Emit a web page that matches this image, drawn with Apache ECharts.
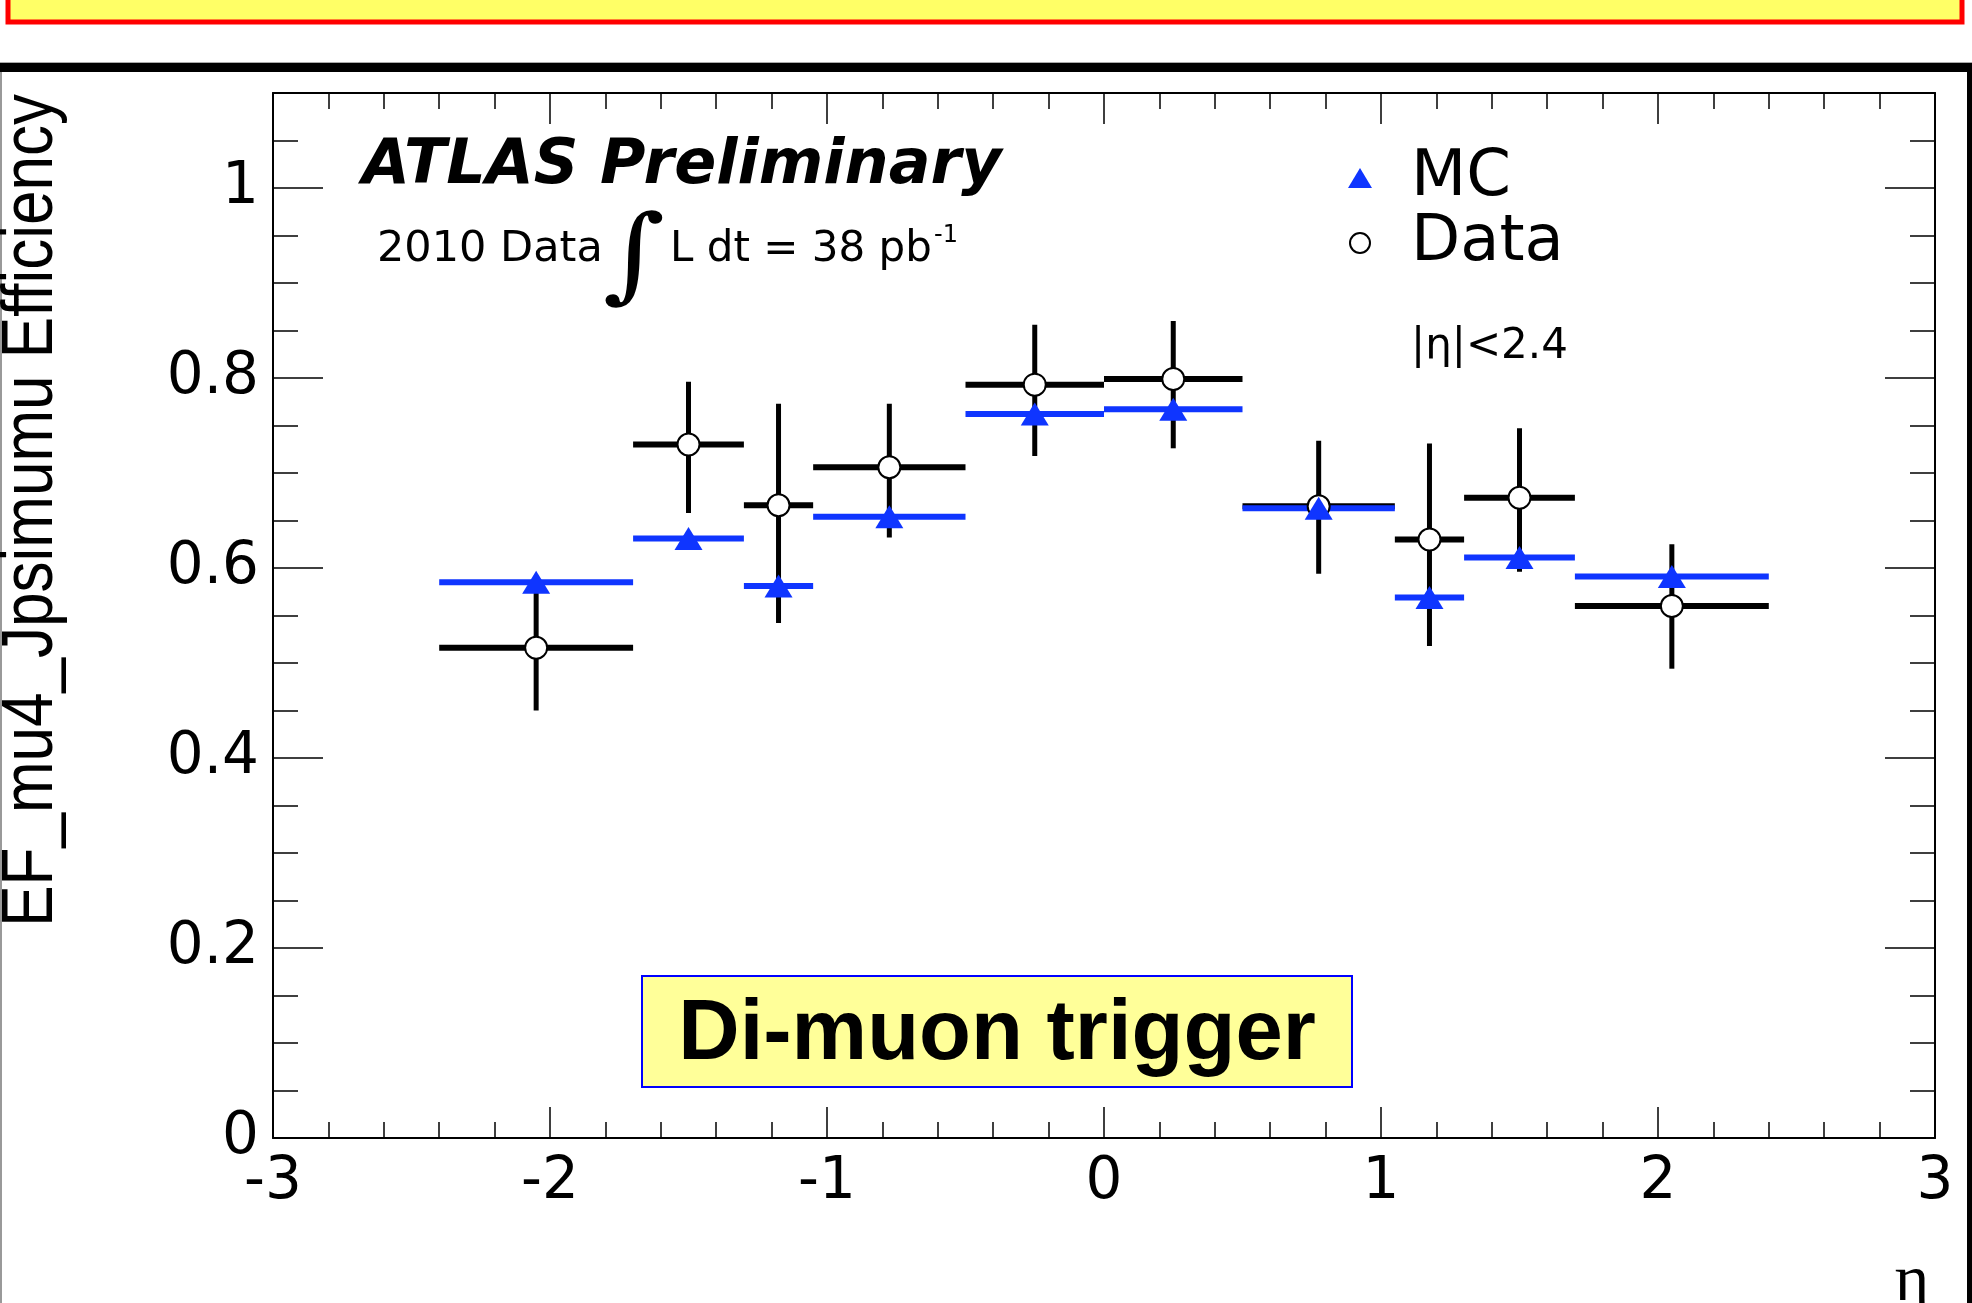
<!DOCTYPE html>
<html>
<head>
<meta charset="utf-8">
<title>EF_mu4_Jpsimumu efficiency vs eta</title>
<script src="https://cdn.jsdelivr.net/npm/echarts@6/dist/echarts.min.js"></script>
<style>
html, body { margin: 0; padding: 0; background: #fff; }
#chart-container { width: 1972px; height: 1303px; }
</style>
</head>
<body>
<div id="chart-container"></div>
<script>
// eta bins (edges and point positions)
let binLow = [-2.4, -1.7, -1.3, -1.05, -0.5, 0, 0.5, 1.05, 1.3, 1.7];
let binHigh = [-1.7, -1.3, -1.05, -0.5, 0, 0.5, 1.05, 1.3, 1.7, 2.4];
let etaCenter = [-2.05, -1.5, -1.175, -0.775, -0.25, 0.25, 0.775, 1.175, 1.5, 2.05];

// efficiencies
let dataEff = [0.516, 0.730, 0.666, 0.706, 0.793, 0.799, 0.665, 0.630, 0.674, 0.560];
let dataErrUp = [0.066, 0.066, 0.107, 0.067, 0.063, 0.061, 0.069, 0.101, 0.073, 0.065];
let dataErrDown = [0.066, 0.072, 0.124, 0.074, 0.075, 0.073, 0.071, 0.112, 0.078, 0.066];
let mcEff = [0.585, 0.631, 0.581, 0.654, 0.762, 0.767, 0.663, 0.569, 0.611, 0.591];

let yTickLabels = ['0', '0.2', '0.4', '0.6', '0.8', '1'];

const BLUE = '#0f35ff';
const FONT = 'DejaVu Sans';

let dom = document.getElementById('chart-container');
let myChart = echarts.init(dom, null, { renderer: 'canvas' });

// horizontal bin bar + vertical error bar
function binBars(color, hWidth, vWidth) {
    return function(params, api) {
        let l = api.coord([api.value(2), api.value(1)]);
        let r = api.coord([api.value(3), api.value(1)]);
        let children = [{
            type: 'line',
            shape: { x1: l[0], y1: l[1], x2: r[0], y2: r[1] },
            style: { stroke: color, lineWidth: hWidth }
        }];
        if (api.value(5) > api.value(4)) {
            let lo = api.coord([api.value(0), api.value(4)]);
            let hi = api.coord([api.value(0), api.value(5)]);
            children.push({
                type: 'line',
                shape: { x1: lo[0], y1: lo[1], x2: hi[0], y2: hi[1] },
                style: { stroke: color, lineWidth: vWidth }
            });
        }
        return { type: 'group', children: children };
    };
}

let dataBins = dataEff.map(function(v, i) {
    return [etaCenter[i], v, binLow[i], binHigh[i], v - dataErrDown[i], v + dataErrUp[i]];
});
let mcBins = mcEff.map(function(v, i) {
    return [etaCenter[i], v, binLow[i], binHigh[i], v, v];
});

let lineStyle = { color: '#000', width: 2 };
let tickStyle = { color: '#000', width: 1.5 };

function xAxisDef(pos, labels) {
    return {
        type: 'value', min: -3, max: 3, interval: 1, position: pos,
        axisLine: { show: true, onZero: false, lineStyle: lineStyle },
        axisTick: { show: true, inside: true, length: 31, lineStyle: tickStyle },
        minorTick: { show: true, splitNumber: 5, length: 16, lineStyle: tickStyle },
        axisLabel: {
            show: labels, fontFamily: FONT, fontSize: 58, color: '#000', margin: 16,
            showMinLabel: true, showMaxLabel: true
        },
        splitLine: { show: false }
    };
}

function yAxisDef(pos, interval, tickLen, labels) {
    return {
        type: 'value', min: 0, max: 1.1, interval: interval, position: pos,
        axisLine: { show: interval > 0.1, onZero: false, lineStyle: lineStyle },
        axisTick: { show: true, inside: true, length: tickLen, lineStyle: tickStyle },
        axisLabel: {
            show: labels, fontFamily: FONT, fontSize: 58, color: '#000', margin: 14,
            showMinLabel: true,
            formatter: function(v) {
                let k = Math.round(v / 0.2);
                return (Math.abs(v - k * 0.2) < 1e-6 && k < yTickLabels.length) ? yTickLabels[k] : '';
            }
        },
        splitLine: { show: false }
    };
}

let option = {
    animation: false,
    backgroundColor: '#fff',
    grid: { left: 273, top: 93, right: 37, bottom: 165, outerBoundsMode: 'none' },
    xAxis: [xAxisDef('bottom', true), xAxisDef('top', false)],
    yAxis: [
        yAxisDef('left', 0.2, 50, true),
        yAxisDef('left', 0.05, 25, false),
        yAxisDef('right', 0.2, 50, false),
        yAxisDef('right', 0.05, 25, false)
    ],
    legend: {
        orient: 'vertical', left: 1348, top: 146, padding: 0, itemGap: 1,
        itemWidth: 24, itemHeight: 20, selectedMode: false,
        textStyle: { fontFamily: FONT, fontSize: 64, color: '#000', padding: [0, 0, 0, 34] },
        data: [{ name: 'MC', icon: 'triangle' }, { name: 'Data', icon: 'circle' }]
    },
    graphic: [
        // slide decorations
        { type: 'rect', shape: { x: 8, y: -6, width: 1954, height: 28 },
          style: { fill: '#ffff66', stroke: '#ff0000', lineWidth: 5 } },
        { type: 'rect', shape: { x: 0, y: 62, width: 1972, height: 1 }, style: { fill: '#aaa' } },
        { type: 'rect', shape: { x: 0, y: 63, width: 1972, height: 9 }, style: { fill: '#000' } },
        { type: 'rect', shape: { x: 0, y: 72, width: 2, height: 1231 }, style: { fill: '#999' } },
        { type: 'rect', shape: { x: 1967, y: 63, width: 5, height: 1240 }, style: { fill: '#000' } },
        // texts
        { type: 'text', x: 32, y: 94, rotation: Math.PI / 2, scaleY: 1.18,
          style: { text: 'EF_mu4_Jpsimumu Efficiency', font: '62px "Liberation Sans"', fill: '#000',
                   textAlign: 'right', textVerticalAlign: 'middle' } },
        { type: 'text', x: 362, y: 167,
          style: { text: 'ATLAS Preliminary', font: 'italic bold 62px "DejaVu Sans"', fill: '#000',
                   textAlign: 'left', textVerticalAlign: 'middle' } },
        { type: 'text', x: 377, y: 250,
          style: { text: '2010 Data', font: '43px "DejaVu Sans"', fill: '#000',
                   textAlign: 'left', textVerticalAlign: 'middle' } },
        { type: 'text', x: 634, y: 262, scaleX: 1.15,
          style: { text: '\u222B', font: '104px "DejaVu Serif"', fill: '#000',
                   textAlign: 'center', textVerticalAlign: 'middle' } },
        { type: 'text', x: 670, y: 250,
          style: { text: 'L dt = 38 pb', font: '42px "DejaVu Sans"', fill: '#000',
                   textAlign: 'left', textVerticalAlign: 'middle' } },
        { type: 'text', x: 934, y: 236,
          style: { text: '-1', font: '24px "DejaVu Sans"', fill: '#000',
                   textAlign: 'left', textVerticalAlign: 'middle' } },
        { type: 'text', x: 1411, y: 347,
          style: { text: '|\u03B7|<2.4', font: '42px "DejaVu Sans"', fill: '#000',
                   textAlign: 'left', textVerticalAlign: 'middle' } },
        { type: 'text', x: 1912, y: 1283,
          style: { text: '\u03B7', font: '66px "Liberation Serif"', fill: '#000',
                   textAlign: 'center', textVerticalAlign: 'middle' } },
        // label box
        { type: 'rect', shape: { x: 642, y: 976, width: 710, height: 111 },
          style: { fill: '#ffff99', stroke: '#0000ff', lineWidth: 2 } },
        { type: 'text', x: 997, y: 1036,
          style: { text: 'Di-muon trigger', font: 'bold 85px "Liberation Sans"', fill: '#000',
                   textAlign: 'center', textVerticalAlign: 'middle' } }
    ],
    series: [
        {
            name: 'Data bins', type: 'custom', xAxisIndex: 0, yAxisIndex: 0,
            renderItem: binBars('#000', 6, 5), data: dataBins, silent: true
        },
        {
            name: 'Data', type: 'scatter', xAxisIndex: 0, yAxisIndex: 0,
            symbol: 'circle', symbolSize: 22,
            itemStyle: { color: '#fff', borderColor: '#000', borderWidth: 2, opacity: 1 },
            data: etaCenter.map(function(x, i) { return [x, dataEff[i]]; })
        },
        {
            name: 'MC bins', type: 'custom', xAxisIndex: 0, yAxisIndex: 0,
            renderItem: binBars(BLUE, 6, 5), data: mcBins, silent: true
        },
        {
            name: 'MC', type: 'scatter', xAxisIndex: 0, yAxisIndex: 0,
            symbol: 'triangle', symbolSize: [28, 23],
            itemStyle: { color: BLUE, opacity: 1 },
            data: etaCenter.map(function(x, i) { return [x, mcEff[i]]; })
        }
    ]
};

myChart.setOption(option);
window.addEventListener('resize', myChart.resize);
</script>
</body>
</html>
